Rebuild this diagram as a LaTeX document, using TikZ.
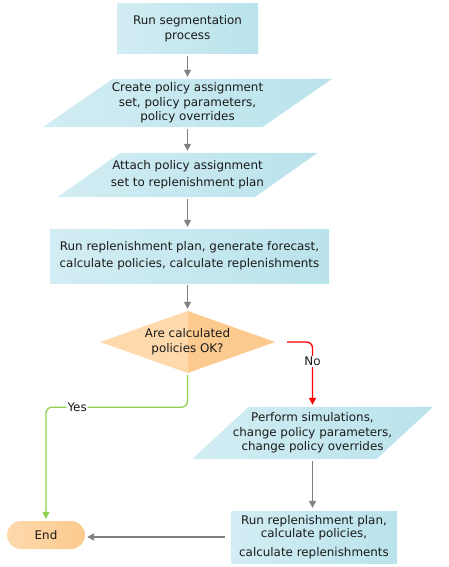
\documentclass[tikz,border=0pt]{standalone}
\usepackage{fontspec}
\setmainfont{DejaVu Sans}
\usetikzlibrary{shapes.geometric,arrows.meta,backgrounds}
\definecolor{blA}{HTML}{D2EDF3}
\definecolor{blB}{HTML}{BAE3EC}
\definecolor{orA}{HTML}{FDD9AC}
\definecolor{orB}{HTML}{FCCA8E}
\definecolor{grn}{HTML}{8FD14F}
\definecolor{gry}{HTML}{808080}
\definecolor{txt}{HTML}{1A1A1A}
\tikzset{
  txtstyle/.style={font=\fontsize{11.9}{14.7}\selectfont, text=txt, align=center, inner sep=0pt},
  boxnode/.style={txtstyle, rectangle, left color=blA, right color=blB},
  paranode/.style={txtstyle, rectangle},
  decnode/.style={txtstyle, diamond, aspect=2.8, fill=orA,
    path picture={\fill[orB] (path picture bounding box.north) rectangle (path picture bounding box.south east);}},
  endnode/.style={txtstyle, rectangle, rounded corners=14pt, left color=orA, right color=orB},
  garrow/.style={draw=gry, line width=1.3pt, -{Triangle[width=7pt,length=7pt]}, shorten <=2pt, shorten >=2pt},
  labelnode/.style={font=\fontsize{11.9}{14}\selectfont, text=txt, fill=white, inner sep=1pt},
}
\newcommand\paral[2]{\shade[left color=blA,right color=blB] ([xshift=#2]#1.north west) -- ([xshift=#2]#1.north east) -- ([xshift=-#2]#1.south east) -- ([xshift=-#2]#1.south west) -- cycle;}
\begin{document}
\begin{tikzpicture}[x=1pt,y=-1pt]
\useasboundingbox (0,0) rectangle (449,567);
\node[boxnode, minimum width=141, minimum height=50] (b1) at (187.5,29) {Run segmentation\\process};
\node[paranode, minimum width=219, minimum height=48] (p2) at (187.5,103) {Create policy assignment\\set, policy parameters,\\policy overrides};
\node[paranode, minimum width=197, minimum height=44] (p3) at (187.5,175) {Attach policy assignment\\[2pt]set to replenishment plan};
\node[boxnode, minimum width=279, minimum height=54] (b4) at (189.5,256) {Run replenishment plan, generate forecast,\\[2.5pt]calculate policies, calculate replenishments};
\node[decnode, minimum width=175, minimum height=62] (d) at (187.5,342) {Are calculated\\policies OK?};
\node[paranode, minimum width=184, minimum height=52] (p5) at (312.5,433) {Perform simulations,\\change policy parameters,\\change policy overrides};
\node[boxnode, minimum width=166, minimum height=52] (b6) at (314,537) {Run replenishment plan,\\[-1.5pt]calculate policies,\\[4.5pt]calculate replenishments};
\node[endnode, minimum width=78, minimum height=28] (e) at (46,535) {End};
\begin{scope}[on background layer]
\paral{p2}{35pt}
\paral{p3}{31.5pt}
\paral{p5}{28.5pt}
\end{scope}
\draw[garrow] (b1.south) -- (p2.north);
\draw[garrow] (p2.south) -- (p3.north);
\draw[garrow] (p3.south) -- (p3.south |- b4.north);
\draw[garrow] (b4.south -| d.north) -- (d.north);
\draw[garrow, draw=red, rounded corners=6pt, shorten <=12pt] (d.east) -| node[labelnode, pos=0.65] {No} (p5.north);
\draw[garrow, draw=grn, rounded corners=6pt] (d.south) -- ++(0,34) -| node[labelnode, pos=0.39] {Yes} (e.north);
\draw[garrow, shorten >=3pt] (p5.south) -- (p5.south |- b6.north);
\draw[garrow, shorten <=6pt] (b6.west) -- (b6.west -| e.east);
\end{tikzpicture}
\end{document}
